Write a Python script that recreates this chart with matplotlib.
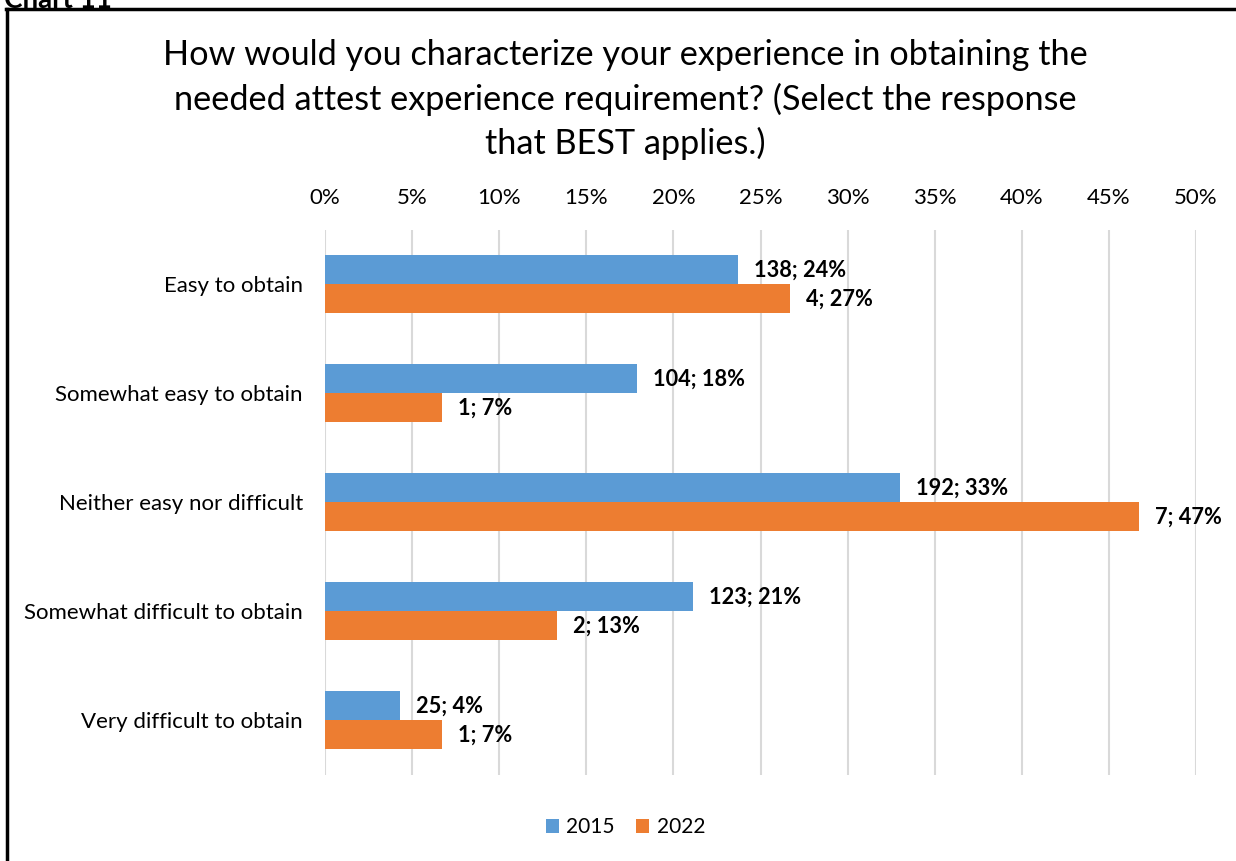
import numpy as np
import matplotlib.pyplot as plt
from matplotlib.lines import Line2D

plt.rcParams['font.family'] = ['Lato', 'DejaVu Sans']

# data
categories = ['Easy to obtain', 'Somewhat easy to obtain', 'Neither easy nor difficult',
              'Somewhat difficult to obtain', 'Very difficult to obtain']
counts_2015 = [138, 104, 192, 123, 25]
pct_2015 = [23.7, 17.9, 33.0, 21.1, 4.3]
counts_2022 = [4, 1, 7, 2, 1]
pct_2022 = [26.7, 6.7, 46.7, 13.3, 6.7]
xticks = [0, 5, 10, 15, 20, 25, 30, 35, 40, 45, 50]

blue = '#5b9bd5'
orange = '#ed7d31'

fig = plt.figure(figsize=(12.36, 8.61), dpi=100)
ax = fig.add_axes([0.263, 0.0999, 0.7047, 0.633])

y = np.arange(len(categories))
h = 0.266
ax.barh(y - h / 2, pct_2015, height=h, color=blue, label='2015', zorder=3)
ax.barh(y + h / 2, pct_2022, height=h, color=orange, label='2022', zorder=3)

# value labels
for i in range(len(categories)):
    ax.annotate('%d; %d%%' % (counts_2015[i], round(pct_2015[i])), (pct_2015[i], y[i] - h / 2),
                xytext=(11.5, 0), textcoords='offset points', va='center', ha='left',
                fontsize=15.7, fontweight='bold')
    ax.annotate('%d; %d%%' % (counts_2022[i], round(pct_2022[i])), (pct_2022[i], y[i] + h / 2),
                xytext=(11.5, 0), textcoords='offset points', va='center', ha='left',
                fontsize=15.7, fontweight='bold')

ax.set_xlim(0, 50)
ax.set_ylim(4.5, -0.5)
ax.set_xticks(xticks)
ax.set_xticklabels(['%d%%' % t for t in xticks])
ax.xaxis.tick_top()
ax.set_yticks(y)
ax.set_yticklabels(categories)
ax.tick_params(axis='both', length=0, labelsize=16)
ax.tick_params(axis='x', pad=16)
ax.tick_params(axis='y', pad=16)
ax.grid(axis='x', color='#d9d9d9', linewidth=1.5, zorder=0)
for s in ax.spines.values():
    s.set_visible(False)

fig.text(0.506, 0.884, 'How would you characterize your experience in obtaining the\n'
         'needed attest experience requirement? (Select the response\n'
         'that BEST applies.)', ha='center', va='center', fontsize=24.7, linespacing=1.42)

fig.legend(loc='center', bbox_to_anchor=(0.506, 0.0395), ncol=2, frameon=False,
           fontsize=15, handlelength=0.65, handleheight=0.65, handletextpad=0.35, columnspacing=1.0)

# page border and cut-off heading
fig.add_artist(Line2D([0.0055, 0.0055], [0, 0.99], color='black', lw=2.5, transform=fig.transFigure))
fig.add_artist(Line2D([0.0045, 1], [0.99, 0.99], color='black', lw=2.5, transform=fig.transFigure))
fig.text(0.003, 1.0, 'Chart 11', ha='left', va='center', fontsize=20, fontweight='bold')

fig.savefig('out.png')
